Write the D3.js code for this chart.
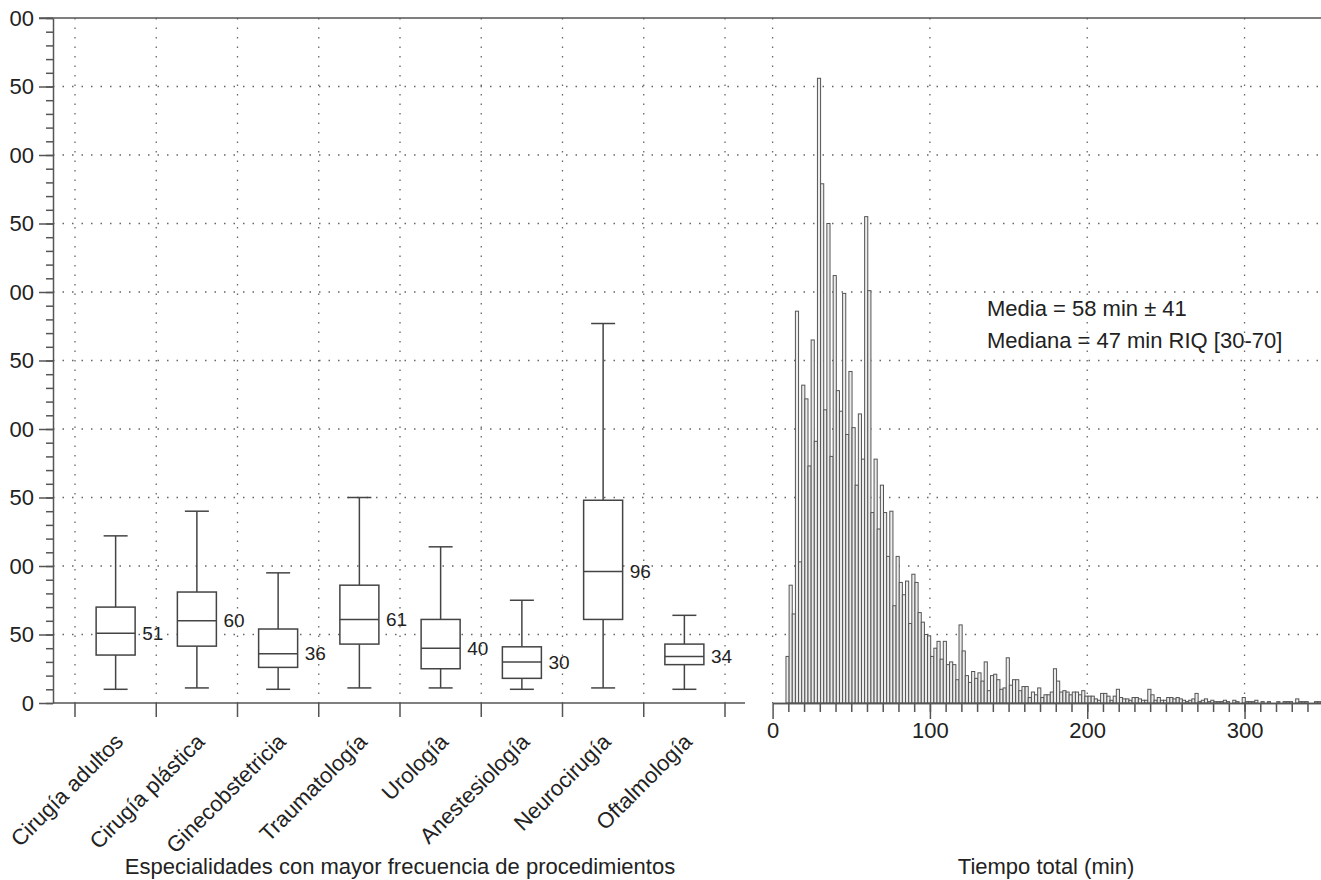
<!DOCTYPE html>
<html lang="es">
<head>
<meta charset="UTF-8">
<title>Tiempo total por especialidad</title>
<script src="https://d3js.org/d3.v7.min.js"></script>
<style>
    body { margin: 0; background: #fff; }
    svg { display: block; font-family: "Liberation Sans", Arial, sans-serif; }
    .grid line { stroke: #666; stroke-width: 1.3; stroke-dasharray: 1.5 8; }
    .axis path, .axis line { stroke: #555; stroke-width: 1.5; }
    .axis text { fill: #222; font-size: 22px; font-family: "Liberation Sans", Arial, sans-serif; }
    .lbl { fill: #222; font-size: 22px; }
</style>
</head>
<body>
<script>
    // ---- data ----
    const categories = ["Cirugía adultos", "Cirugía plástica", "Ginecobstetricia", "Traumatología",
        "Urología", "Anestesiología", "Neurocirugía", "Oftalmología"];
    const whiskerLow  = [10, 11, 10, 11, 11, 10, 11, 10];
    const q1          = [35, 41.5, 26, 43, 25, 18, 61, 28];
    const medians     = [51, 60, 36, 61, 40, 30, 96, 34];
    const q3          = [70, 81, 54, 86, 61, 41, 148, 43];
    const whiskerHigh = [122, 140, 95, 150, 114, 75, 277, 64];

    // histogram of total time, 2-minute bins starting at 8.5 min
    const binStart = 8.5;
    const binWidth = 2;
    const counts = [
        34, 86, 65, 286, 103, 232, 222, 173, 265, 191,
        456, 379, 214, 350, 180, 312, 228, 213, 299, 196,
        242, 201, 159, 211, 178, 355, 301, 139, 178, 127,
        159, 139, 107, 140, 71, 107, 88, 79, 89, 58,
        94, 88, 66, 59, 50, 49,
        34, 40, 45, 32, 45, 28, 30, 28, 17, 57,
        38, 20, 15, 23, 18, 22, 16, 30, 9, 20,
        21, 17, 10, 11, 33, 13, 17, 17, 9, 12,
        12, 4, 8, 6, 11, 4, 6, 6, 8, 25,
        16, 8, 9, 8, 6, 8, 8, 6, 9, 5,
        5,
        5, 3, 2, 7, 7, 5, 2, 5, 10, 4,
        3, 3, 2, 4, 4, 3, 2, 2, 10, 6,
        2, 4, 2, 2, 4, 4, 3, 4, 3, 2,
        1, 2, 3, 7, 1, 2, 3, 1, 2, 1,
        1, 1, 2, 1, 0, 2, 1, 0, 4, 1,
        1, 1, 2, 0, 1, 0, 1, 0, 0, 1,
        0, 1, 1, 1, 0, 3, 1, 1, 1, 0,
        0, 1, 1
    ];

    const yTicks = [0, 50, 100, 150, 200, 250, 300, 350, 400, 450, 500];
    const yMinorTicks = d3.range(0, 501, 10);
    const timeTicks = [0, 100, 200, 300];
    const timeMinorTicks = d3.range(10, 341, 10);
    const statsLines = ["Media = 58 min ± 41", "Mediana = 47 min RIQ [30-70]"];
    const leftTitle = "Especialidades con mayor frecuencia de procedimientos";
    const rightTitle = "Tiempo total (min)";

    // ---- layout ----
    const width = 1321, height = 880;
    const plotTop = 18, base = 703;
    const yAxisX = 53;

    const svg = d3.select("body").append("svg")
        .attr("width", width)
        .attr("height", height);

    const y = d3.scaleLinear().domain([0, 500]).range([base, plotTop]);
    const xCat = d3.scaleBand().domain(categories).range([75, 725]);
    const xTime = d3.scaleLinear().domain([0, 348.6]).range([772.6, width]);

    // the figure edge cuts the leading digit of the y labels
    svg.append("clipPath").attr("id", "ylab-clip")
        .append("rect").attr("x", 9.5).attr("y", 0).attr("width", width).attr("height", height);

    // grid
    const grid = svg.append("g").attr("class", "grid");
    grid.selectAll("line.h")
        .data(yTicks.filter(d => d > 0 && d < 500))
        .join("line").attr("class", "h")
        .attr("x1", yAxisX).attr("x2", width)
        .attr("y1", d => y(d)).attr("y2", d => y(d));
    const catEdges = categories.map(c => xCat(c)).concat([xCat.range()[1]]);
    grid.selectAll("line.vc")
        .data(catEdges)
        .join("line").attr("class", "vc")
        .attr("x1", d => d).attr("x2", d => d)
        .attr("y1", plotTop).attr("y2", base);
    grid.selectAll("line.vt")
        .data(timeTicks)
        .join("line").attr("class", "vt")
        .attr("x1", d => xTime(d)).attr("x2", d => xTime(d))
        .attr("y1", plotTop).attr("y2", base);

    // top frame line
    svg.append("line")
        .attr("x1", 39).attr("x2", width)
        .attr("y1", plotTop).attr("y2", plotTop)
        .attr("stroke", "#555").attr("stroke-width", 1.5);

    // y axis
    svg.append("g").attr("class", "axis")
        .attr("transform", `translate(${yAxisX},0)`)
        .call(d3.axisLeft(y).tickValues(yMinorTicks).tickSize(7).tickSizeOuter(0).tickFormat(""))
        .call(g => g.select(".domain").remove());
    svg.append("g")
        .attr("clip-path", "url(#ylab-clip)")
        .append("g").attr("class", "axis")
        .attr("transform", `translate(${yAxisX},0)`)
        .call(d3.axisLeft(y).tickValues(yTicks).tickSize(14).tickSizeOuter(0).tickPadding(5));

    // category axis (ticks on band edges)
    const catAxis = svg.append("g").attr("class", "axis");
    catAxis.append("line")
        .attr("x1", yAxisX).attr("x2", 745)
        .attr("y1", base).attr("y2", base);
    catAxis.selectAll("line.tk")
        .data(catEdges)
        .join("line").attr("class", "tk")
        .attr("x1", d => d).attr("x2", d => d)
        .attr("y1", base).attr("y2", base + 14);
    catAxis.selectAll("text")
        .data(categories)
        .join("text")
        .attr("text-anchor", "end")
        .attr("transform", d => `translate(${xCat(d) + xCat.bandwidth() / 2 + 9},${base + 40}) rotate(-45)`)
        .text(d => d);

    // boxplots
    const boxW = 39, capW = 24;
    const boxes = svg.append("g")
        .attr("stroke", "#444").attr("stroke-width", 1.5);
    categories.forEach((c, i) => {
        const cx = xCat(c) + xCat.bandwidth() / 2;
        const g = boxes.append("g");
        g.append("line").attr("x1", cx).attr("x2", cx)
            .attr("y1", y(whiskerHigh[i])).attr("y2", y(q3[i]));
        g.append("line").attr("x1", cx).attr("x2", cx)
            .attr("y1", y(q1[i])).attr("y2", y(whiskerLow[i]));
        g.append("line").attr("x1", cx - capW / 2).attr("x2", cx + capW / 2)
            .attr("y1", y(whiskerHigh[i])).attr("y2", y(whiskerHigh[i]));
        g.append("line").attr("x1", cx - capW / 2).attr("x2", cx + capW / 2)
            .attr("y1", y(whiskerLow[i])).attr("y2", y(whiskerLow[i]));
        g.append("rect")
            .attr("x", cx - boxW / 2).attr("width", boxW)
            .attr("y", y(q3[i])).attr("height", y(q1[i]) - y(q3[i]))
            .attr("fill", "#fff");
        g.append("line").attr("x1", cx - boxW / 2).attr("x2", cx + boxW / 2)
            .attr("y1", y(medians[i])).attr("y2", y(medians[i]));
        svg.append("text")
            .attr("x", cx + boxW / 2 + 7)
            .attr("y", y(medians[i]))
            .attr("dy", "0.35em")
            .attr("fill", "#222")
            .style("font-size", "19px")
            .text(medians[i]);
    });

    // histogram
    const binPx = xTime(binWidth) - xTime(0);
    svg.append("g")
        .selectAll("rect")
        .data(counts.map((c, k) => ({x0: binStart + k * binWidth, c: c})).filter(d => d.c > 0))
        .join("rect")
        .attr("x", d => xTime(d.x0))
        .attr("width", binPx)
        .attr("y", d => y(d.c))
        .attr("height", d => base - y(d.c))
        .attr("fill", "#ececec")
        .attr("stroke", "#555")
        .attr("stroke-width", 1);

    // time axis
    svg.append("g").attr("class", "axis")
        .attr("transform", `translate(0,${base})`)
        .call(d3.axisBottom(xTime).tickValues(timeMinorTicks).tickSize(9).tickSizeOuter(0).tickFormat(""));
    svg.append("g").attr("class", "axis")
        .attr("transform", `translate(0,${base})`)
        .call(d3.axisBottom(xTime).tickValues(timeTicks).tickSize(16).tickSizeOuter(0).tickPadding(3));

    // stats annotation
    svg.append("g").selectAll("text")
        .data(statsLines)
        .join("text")
        .attr("class", "lbl")
        .attr("x", 987)
        .attr("y", (d, i) => 316 + i * 32)
        .text(d => d);

    // axis titles
    svg.append("text").attr("class", "lbl")
        .attr("x", 400).attr("y", 874)
        .attr("text-anchor", "middle")
        .text(leftTitle);
    svg.append("text").attr("class", "lbl")
        .attr("x", 1046).attr("y", 874)
        .attr("text-anchor", "middle")
        .text(rightTitle);
</script>
</body>
</html>
